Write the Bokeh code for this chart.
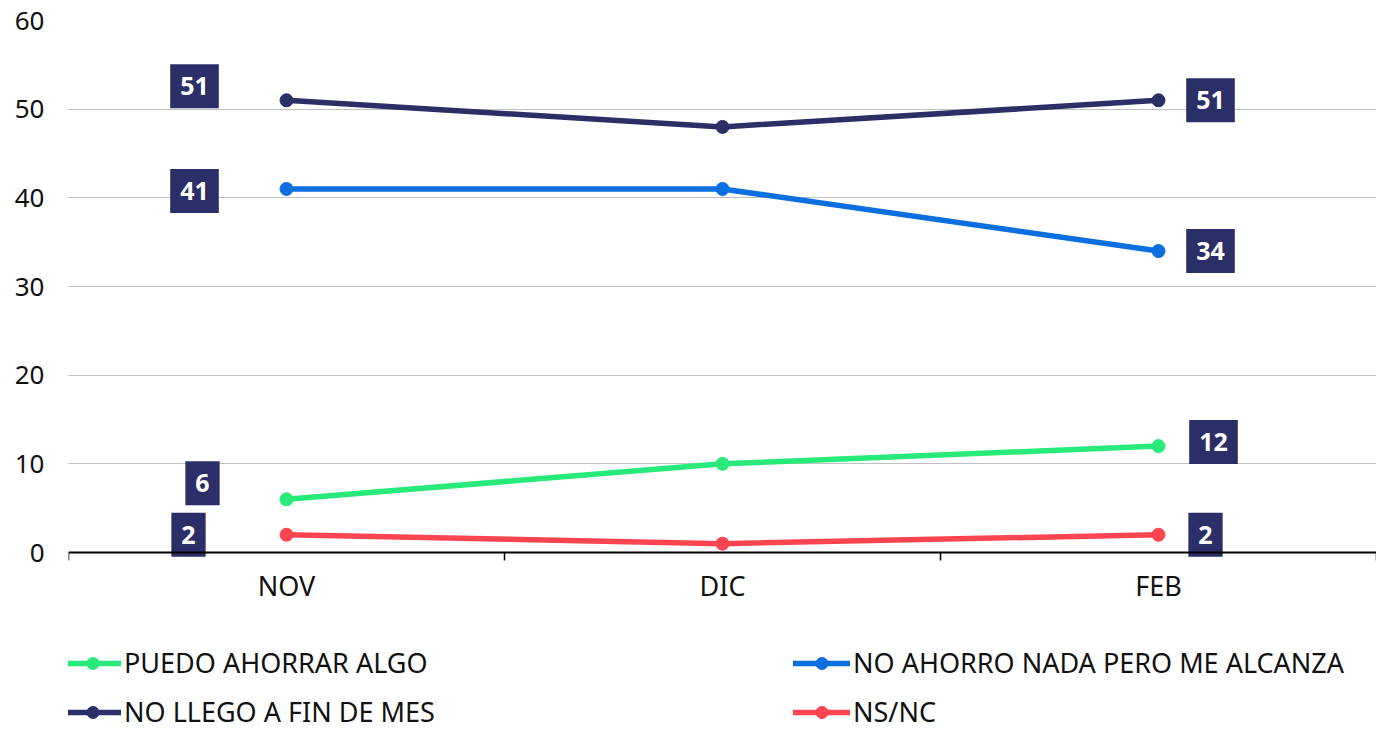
from bokeh.plotting import figure
from bokeh.models import Range1d, FixedTicker, Legend, LegendItem, ColumnDataSource
from bokeh.core.properties import value
from bokeh.embed import file_html
from bokeh.resources import INLINE

# ---- data ----
months = ["NOV", "DIC", "FEB"]
series_names = ["PUEDO AHORRAR ALGO", "NO AHORRO NADA PERO ME ALCANZA",
                "NO LLEGO A FIN DE MES", "NS/NC"]
puedo = [6, 10, 12]
no_ahorro = [41, 41, 34]
no_llego = [51, 48, 51]
nsnc = [2, 1, 2]
y_ticks = [0, 10, 20, 30, 40, 50, 60]

# ---- style ----
colors = ["#27EA7A", "#0C6FE0", "#2A2F66", "#FC4551"]
label_box = "#2B2F67"
FONT = "Noto Sans"
first_offsets = [(-84, -16), (-92, 2), (-92, -14), (-98, 0)]
last_offsets = [(55, -4), (52, 0), (52, 0), (47, 0)]

W, H = 1376, 730
TOP, ZERO_PX = 20, 552          # pixel rows of y=60 and y=0
y_max = y_ticks[-1]
px_per_unit = (ZERO_PX - TOP) / y_max
y_min = -(H - ZERO_PX) / px_per_unit   # frame extends under the axis for the legend

all_series = [puedo, no_ahorro, no_llego, nsnc]
xs = [i + 0.5 for i in range(len(months))]

p = figure(width=W, height=H, output_backend="svg", toolbar_location=None,
           x_range=Range1d(0, len(months)), y_range=Range1d(y_min, y_max),
           min_border_left=68, min_border_right=0, min_border_top=TOP,
           min_border_bottom=0)
p.outline_line_color = None
p.background_fill_color = "white"
p.border_fill_color = "white"

# y axis
p.yaxis.ticker = FixedTicker(ticks=y_ticks)
p.yaxis.axis_line_color = None
p.yaxis.major_tick_line_color = None
p.yaxis.minor_tick_line_color = None
p.yaxis.major_tick_out = 0
p.yaxis.major_label_standoff = 24
p.yaxis.major_label_text_font = FONT
p.yaxis.major_label_text_font_size = "26px"
p.yaxis.major_label_text_color = "#111111"

# x axis (drawn at y = 0)
p.xaxis.fixed_location = 0
p.xaxis.ticker = FixedTicker(ticks=xs, minor_ticks=list(range(len(months) + 1)))
p.xaxis.major_label_overrides = {x: m for x, m in zip(xs, months)}
p.xaxis.axis_line_color = "black"
p.xaxis.axis_line_width = 2
p.xaxis.major_tick_line_color = None
p.xaxis.major_tick_out = 0
p.xaxis.major_tick_in = 0
p.xaxis.minor_tick_line_color = "black"
p.xaxis.minor_tick_line_width = 1.5
p.xaxis.minor_tick_out = 8
p.xaxis.minor_tick_in = 0
p.xaxis.major_label_standoff = 6
p.xaxis.major_label_text_font = FONT
p.xaxis.major_label_text_font_size = "27px"
p.xaxis.major_label_text_color = "#111111"

# grid
p.xgrid.grid_line_color = None
p.ygrid.ticker = FixedTicker(ticks=y_ticks[1:])
p.ygrid.grid_line_color = "#808080"
p.ygrid.grid_line_dash = "1 1"
p.ygrid.grid_line_width = 1

items = []
for name, vals, col in zip(series_names, all_series, colors):
    lr = p.line(xs, vals, line_color=col, line_width=5.5, line_cap="round", line_join="round")
    sr = p.scatter(xs, vals, size=13, fill_color=col, line_color=col)
    items.append(LegendItem(label=name, renderers=[lr, sr]))

# value labels at first and last month
lx, ly, lt, ldx, ldy = [], [], [], [], []
for vals, fo, lo in zip(all_series, first_offsets, last_offsets):
    lx += [xs[0], xs[-1]]
    ly += [vals[0], vals[-1]]
    lt += [str(vals[0]), str(vals[-1])]
    ldx += [fo[0], lo[0]]
    ldy += [fo[1], lo[1]]
src = ColumnDataSource(dict(x=lx, y=ly, text=lt, dx=ldx, dy=ldy))
p.text(x="x", y="y", text="text", x_offset="dx", y_offset="dy", source=src,
       text_color="white", text_font=value(FONT), text_font_style="bold",
       text_font_size="25px", text_align="center", text_baseline="middle",
       background_fill_color=label_box,
       padding=dict(left=10, right=10, top=13, bottom=13))

lg = Legend(items=items, location=(-4, 0), orientation="horizontal", ncols=2)
lg.border_line_color = None
lg.background_fill_alpha = 0
lg.padding = 0
lg.margin = 0
lg.spacing = 12
lg.glyph_width = 57
lg.glyph_height = 30
lg.label_height = 30
lg.label_width = 657
lg.label_standoff = 3
lg.label_text_font = FONT
lg.label_text_font_size = "27px"
lg.label_text_color = "#111111"
p.add_layout(lg)

open("out.html", "w").write(file_html(p, INLINE))
